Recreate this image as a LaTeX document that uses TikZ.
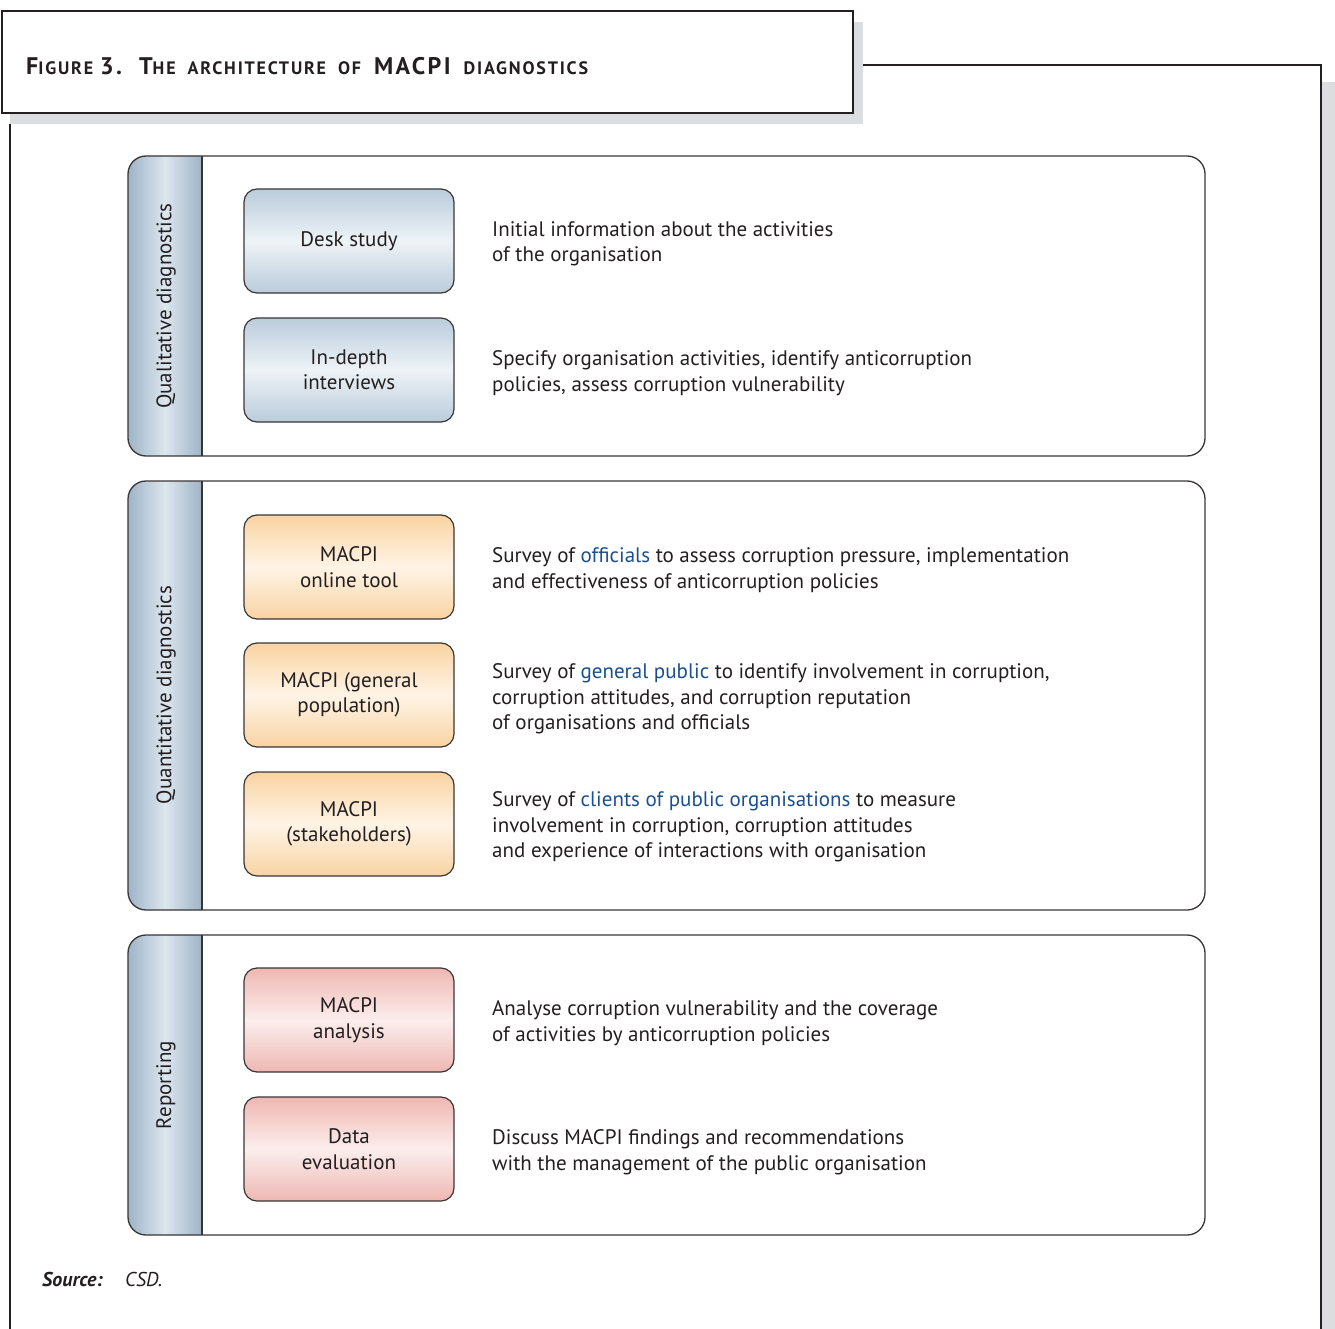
\documentclass[tikz,border=0pt]{standalone}
\usepackage{fontspec}
\setmainfont{PT Sans}
\setsansfont{PT Sans}
\newfontfamily\headfont[LetterSpace=10]{PT Sans}
\definecolor{ink}{HTML}{231F20}
\definecolor{linkblue}{HTML}{1B4F8F}
\definecolor{shadowgray}{HTML}{DCDDDE}
\definecolor{bluetop}{HTML}{BACCDB}
\definecolor{bluemid}{HTML}{EEF3F7}
\definecolor{orangetop}{HTML}{F9D3A2}
\definecolor{orangemid}{HTML}{FEF4E6}
\definecolor{redtop}{HTML}{EFB7B2}
\definecolor{redmid}{HTML}{FBEEED}
\definecolor{barside}{HTML}{9EB4C7}
\definecolor{barmid}{HTML}{DCE6EE}
\newcommand{\smc}[1]{{\fontsize{18}{18}\selectfont #1}}
\begin{document}
\begin{tikzpicture}[x=1pt,y=-1pt,
  every node/.style={text=ink, font=\fontsize{21}{25.5}\selectfont},
  panel/.style={draw=ink!90, line width=1.3pt, rounded corners=18pt},
  stagebox/.style={draw=ink!90, line width=1.2pt, rounded corners=13pt,
    minimum width=210pt, minimum height=104pt, align=center, inner sep=0pt},
  bluebox/.style={stagebox, top color=bluetop, bottom color=bluetop, middle color=bluemid},
  orangebox/.style={stagebox, top color=orangetop, bottom color=orangetop, middle color=orangemid},
  redbox/.style={stagebox, top color=redtop, bottom color=redtop, middle color=redmid},
  desc/.style={anchor=west, align=left, inner sep=0pt, yshift=-3pt},
  sidelabel/.style={rotate=90, inner sep=0pt}]
\useasboundingbox (0,0) rectangle (1335,1329);

% frame shadows
\fill[shadowgray] (10,22) rectangle (863,124);
\fill[shadowgray] (1322,82) rectangle (1335,1329);
% outer frame
\draw[ink, line width=1.6pt] (863,65) -- (1321,65) -- (1321,1329);
\draw[ink, line width=1.6pt] (10,124) -- (10,1329);
% title box
\node[draw=ink, line width=1.6pt, fill=white, minimum width=851pt, minimum height=102pt,
  anchor=north west, inner sep=0pt] (titlebox) at (1,10) {};
\node[anchor=base west, inner sep=0pt, font=\headfont\bfseries\fontsize{24}{24}\selectfont] (title) at (26,75)
  {F\smc{IGURE}\hspace{7pt}3.\hspace{17pt}T\smc{HE}\hspace{12pt}\smc{ARCHITECTURE}\hspace{12pt}\smc{OF}\hspace{13pt}MACPI\hspace{13pt}\smc{DIAGNOSTICS}};

% panels with shaded side bars
\foreach \top/\bot in {156/456, 481/910, 935/1235}{
  \begin{scope}
    \clip[rounded corners=18pt] (128,\top) rectangle (1205,\bot);
    \shade[left color=barside, right color=barside, middle color=barmid] (128,\top) rectangle (202,\bot);
  \end{scope}
  \draw[panel] (128,\top) rectangle (1205,\bot);
  \draw[ink!90, line width=1.3pt] (202,\top) -- (202,\bot);
}

\node[sidelabel] (lab1) at (166,306) {Qualitative diagnostics};
\node[sidelabel] (lab2) at (166,695) {Quantitative diagnostics};
\node[sidelabel] (lab3) at (166,1085) {Reporting};

% stage boxes
\node[bluebox] (desk) at (349,241) {Desk study};
\node[bluebox] (interv) at (349,370) {In-depth\\interviews};
\node[orangebox] (online) at (349,567) {MACPI\\online tool};
\node[orangebox] (genpop) at (349,695) {MACPI (general\\population)};
\node[orangebox] (stake) at (349,824) {MACPI\\(stakeholders)};
\node[redbox] (analysis) at (349,1020) {MACPI\\analysis};
\node[redbox] (evalu) at (349,1149) {Data\\evaluation};

% descriptions
\node[desc] (d1) at (492,241) {Initial information about the activities\\of the organisation};
\node[desc] (d2) at (492,370) {Specify organisation activities, identify anticorruption\\policies, assess corruption vulnerability};
\node[desc] (d3) at (492,567) {Survey of \textcolor{linkblue}{officials} to assess corruption pressure, implementation\\and effectiveness of anticorruption policies};
\node[desc] (d4) at (492,696) {Survey of \textcolor{linkblue}{general public} to identify involvement in corruption,\\corruption attitudes, and corruption reputation\\of organisations and officials};
\node[desc] (d5) at (492,824) {Survey of \textcolor{linkblue}{clients of public organisations} to measure\\involvement in corruption, corruption attitudes\\and experience of interactions with organisation};
\node[desc] (d6) at (492,1020) {Analyse corruption vulnerability and the coverage\\of activities by anticorruption policies};
\node[desc] (d7) at (492,1149) {Discuss MACPI findings and recommendations\\with the management of the public organisation};

% source line
\node[anchor=base west, inner sep=0pt, font=\fontsize{20}{20}\selectfont\bfseries\itshape] (src) at (42,1286) {Source:};
\node[anchor=base west, inner sep=0pt, font=\fontsize{20}{20}\selectfont\itshape] (srcval) at (125,1286) {CSD.};
\end{tikzpicture}
\end{document}
